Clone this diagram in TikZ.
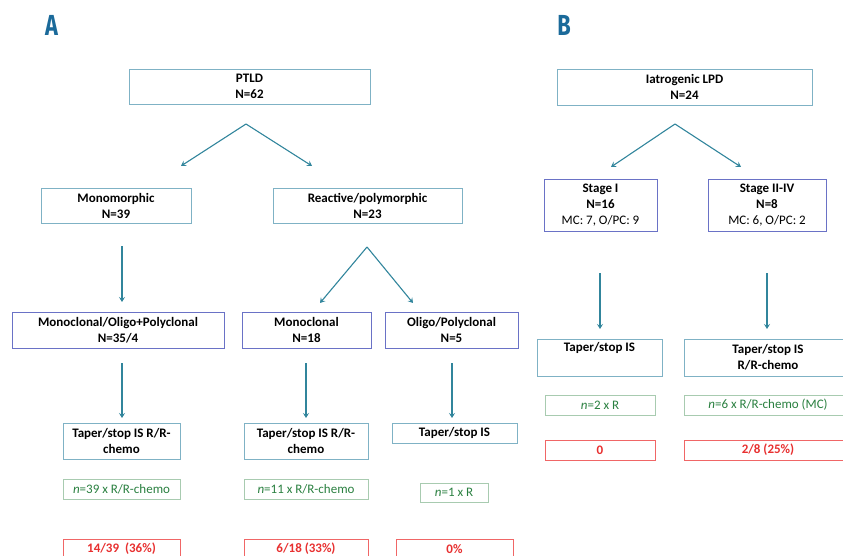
\documentclass[tikz,border=0pt]{standalone}
\usepackage{fontspec}
\setmainfont{Carlito}
\newfontfamily\labfont{Fira Sans}
\usetikzlibrary{arrows.meta}
\definecolor{bxteal}{HTML}{7FB2C5}
\definecolor{bxpurp}{HTML}{6A72C6}
\definecolor{bxgreen}{HTML}{A8CBB0}
\definecolor{txgreen}{HTML}{2A8040}
\definecolor{bxred}{HTML}{F06666}
\definecolor{txred}{HTML}{E83030}
\definecolor{arrcol}{HTML}{31859C}
\definecolor{labcol}{HTML}{1B6A9A}
\begin{document}
\begin{tikzpicture}[x=1pt,y=-1pt,
  basebox/.style={line width=0.9pt, fill=white, inner sep=0pt, align=center,
    font=\fontsize{13}{16}\selectfont\bfseries},
  tbox/.style={basebox, draw=bxteal},
  pbox/.style={basebox, draw=bxpurp},
  gbox/.style={basebox, draw=bxgreen, text=txgreen, font=\fontsize{13}{16}\selectfont},
  rbox/.style={basebox, draw=bxred, text=txred},
  arr/.style={draw=arrcol, line width=1.1pt, -{Stealth[length=5pt,width=6pt,inset=2pt]}},
  panel/.style={text=labcol, font=\labfont\fontsize{29}{30}\selectfont\bfseries}]
\useasboundingbox (0,0) rectangle (843,556);
\begin{scope}
\clip (0,0) rectangle (843,556);
% panel labels
\node[panel] (labA) at (51.5,25) {\scalebox{0.75}[1]{A}};
\node[panel] (labB) at (564,25) {\scalebox{0.75}[1]{B}};
% Panel A
\node[tbox, minimum width=241, minimum height=35] (ptld) at (249.5,86.5) {PTLD\\N=62};
\node[tbox, minimum width=150, minimum height=35] (mono) at (116,205.5) {Monomorphic\\N=39};
\node[tbox, minimum width=189, minimum height=35] (react) at (367.5,205.5) {Reactive/polymorphic\\N=23};
\node[pbox, minimum width=212, minimum height=36] (mop) at (118,330) {Monoclonal/Oligo+Polyclonal\\N=35/4};
\node[pbox, minimum width=129, minimum height=36] (monoc) at (306.5,330) {Monoclonal\\N=18};
\node[pbox, minimum width=133, minimum height=36] (oligo) at (451.5,330) {Oligo/Polyclonal\\N=5};
\node[tbox, minimum width=117, minimum height=36] (tapL) at (121.5,441) {Taper/stop IS R/R-\\chemo};
\node[tbox, minimum width=124, minimum height=36] (tapM) at (306,441) {Taper/stop IS R/R-\\chemo};
\node[tbox, minimum width=125, minimum height=20] (tapR) at (454.5,433) {Taper/stop IS};
\node[gbox, minimum width=117, minimum height=20] (grL) at (121.5,489) {\textit{n}=39 x R/R-chemo};
\node[gbox, minimum width=124, minimum height=20] (grM) at (306,489) {\textit{n}=11 x R/R-chemo};
\node[gbox, minimum width=68, minimum height=19] (grR) at (454,492.5) {\textit{n}=1 x R};
\node[rbox, minimum width=117, minimum height=20] (rdL) at (121.5,549) {14/39~~(36\%)};
\node[rbox, minimum width=124, minimum height=20] (rdM) at (306,549) {6/18 (33\%)};
\node[rbox, minimum width=117, minimum height=20] (rdR) at (454.5,549) {0\%};
% arrows A
\coordinate (apA) at (246,124);
\coordinate (apAL) at (181,166);
\coordinate (apAR) at (312,166);
\draw[arr] (apA) -- (apAL);
\draw[arr] (apA) -- (apAR);
\coordinate (m1s) at (122,246);
\coordinate (m1e) at (122,302);
\draw[arr] (m1s) -- (m1e);
\coordinate (apR) at (367,247);
\coordinate (apRL) at (320,303);
\coordinate (apRR) at (413,303);
\draw[arr] (apR) -- (apRL);
\draw[arr] (apR) -- (apRR);
\coordinate (d1s) at (122,363);
\coordinate (d1e) at (122,418);
\coordinate (d2s) at (306,363);
\coordinate (d2e) at (306,418);
\coordinate (d3s) at (452,363);
\coordinate (d3e) at (452,418);
\draw[arr] (d1s) -- (d1e);
\draw[arr] (d2s) -- (d2e);
\draw[arr] (d3s) -- (d3e);
% Panel B
\node[tbox, minimum width=255, minimum height=36] (iatro) at (684.5,87) {Iatrogenic LPD\\N=24};
\node[pbox, minimum width=113, minimum height=52] (st1) at (600.5,205) {Stage I\\N=16\\{\mdseries MC: 7, O/PC: 9}};
\node[pbox, minimum width=118, minimum height=52] (st2) at (767,205) {Stage II-IV\\N=8\\{\mdseries MC: 6, O/PC: 2}};
\node[tbox, minimum width=125, minimum height=37] (tapBL) at (599.5,357.5) {Taper/stop IS\\\strut};
\node[tbox, minimum width=168, minimum height=37] (tapBR) at (768,357.5) {Taper/stop IS\\R/R-chemo};
\node[gbox, minimum width=110, minimum height=20] (grBL) at (600,405) {\textit{n}=2 x R};
\node[gbox, minimum width=168, minimum height=20] (grBR) at (768,405) {\textit{n}=6 x R/R-chemo (MC)};
\node[rbox, minimum width=110, minimum height=20] (rdBL) at (600,450) {0};
\node[rbox, minimum width=168, minimum height=20] (rdBR) at (768,450) {2/8 (25\%)};
% arrows B
\coordinate (apB) at (675,124);
\coordinate (apBL) at (611,167);
\coordinate (apBR) at (741,167);
\draw[arr] (apB) -- (apBL);
\draw[arr] (apB) -- (apBR);
\coordinate (b1s) at (600,273);
\coordinate (b1e) at (600,329);
\coordinate (b2s) at (767,273);
\coordinate (b2e) at (767,329);
\draw[arr] (b1s) -- (b1e);
\draw[arr] (b2s) -- (b2e);
\end{scope}
\end{tikzpicture}
\end{document}
